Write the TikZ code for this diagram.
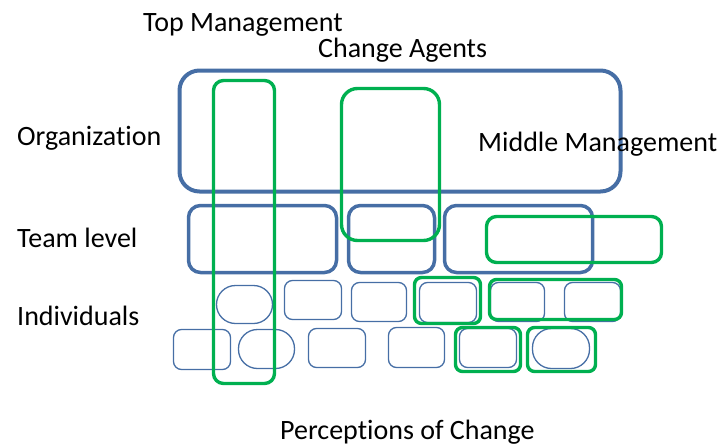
\documentclass[tikz,border=0pt]{standalone}
\usepackage{fontspec}
\setmainfont{Carlito}[Ligatures=NoCommon]
\usepackage{tikz}
\usetikzlibrary{positioning}
\definecolor{lvlblue}{RGB}{70,110,165}
\definecolor{agentgreen}{RGB}{0,176,80}
\tikzset{
  org_box/.style={rectangle, rounded corners=20pt, draw=lvlblue, line width=4pt, inner sep=0},
  team_box/.style={rectangle, rounded corners=12pt, draw=lvlblue, line width=3.5pt, inner sep=0},
  ind_box/.style={rectangle, rounded corners=8pt, draw=lvlblue, line width=1.3pt, inner sep=0},
  ind_oval/.style={rectangle, rounded corners=19pt, draw=lvlblue, line width=1.3pt, inner sep=0},
  agent_box/.style={rectangle, rounded corners=10pt, draw=agentgreen, line width=3.4pt, inner sep=0},
  agent_small/.style={rectangle, rounded corners=7pt, draw=agentgreen, line width=3.4pt, inner sep=0},
  level_label/.style={anchor=base west, inner sep=0, font=\fontsize{28}{30}\selectfont},
  size/.style 2 args={minimum width=#1pt, minimum height=#2pt}
}
\begin{document}
\begin{tikzpicture}[x=1pt, y=-1pt]
\useasboundingbox (0,0) rectangle (721,445);

%% Organization
\node[org_box, size={441}{121}] at (400,131) (org) {};

%% Team level
\node[team_box, size={148}{67}] at (262.5,239) (team1) {};
\node[team_box, size={86}{67}]  at (391.5,239) (team2) {};
\node[team_box, size={148}{67}] at (518.5,239) (team3) {};

%% Individuals, upper row
\node[ind_oval, size={56}{38}] at (244.5,304.5) (ind1) {};
\node[ind_box,  size={57}{39}] at (313,300)     (ind2) {};
\node[ind_box,  size={55}{39}] at (379,302)     (ind3) {};
\node[ind_box,  size={57}{40}] at (448,302.5)   (ind4) {};
\node[ind_box,  size={54}{39}] at (517.5,302)   (ind5) {};
\node[ind_box,  size={56}{39}] at (592.5,302)   (ind6) {};

%% Individuals, lower row
\node[ind_box,  size={57}{40}] at (202,349.5)   (ind7) {};
\node[ind_oval, size={56}{39}] at (266.5,349)   (ind8) {};
\node[ind_box,  size={57}{39}] at (337,348)     (ind9) {};
\node[ind_box,  size={56}{40}] at (416.5,347.5) (ind10) {};
\node[ind_box,  size={57}{39}] at (488,348)     (ind11) {};
\node[ind_oval, size={57}{40}] at (561,348.5)   (ind12) {};

%% Change agents
\node[agent_box, size={61}{303}]  at (244,232)     (top_mgmt) {};
\node[agent_box, rounded corners=16pt, size={98}{152}] at (390.5,164.5) (agents) {};
\node[agent_box, size={175}{46}]  at (574,239.5)   (mid_mgmt) {};
\node[agent_small, size={66}{46}] at (447.5,300.5) (ag_ind4) {};
\node[agent_small, size={132}{40}] at (555.5,299.5) (ag_ind56) {};
\node[agent_small, size={65}{44}] at (488,349.5)   (ag_ind11) {};
\node[agent_small, size={68}{44}] at (561.5,349.5) (ag_ind12) {};

%% Labels
\node[level_label] at (143,31)  (lbl_top)   {Top Management};
\node[level_label] at (318,57)  (lbl_agent) {Change Agents};
\node[level_label] at (17,145)  (lbl_org)   {Organization};
\node[level_label] at (478,151) (lbl_mid)   {Middle Management};
\node[level_label] at (17,247)  (lbl_team)  {Team level};
\node[level_label] at (17,325)  (lbl_ind)   {Individuals};
\node[level_label] at (280,439) (lbl_perc)  {Perceptions of Change};

\end{tikzpicture}
\end{document}
